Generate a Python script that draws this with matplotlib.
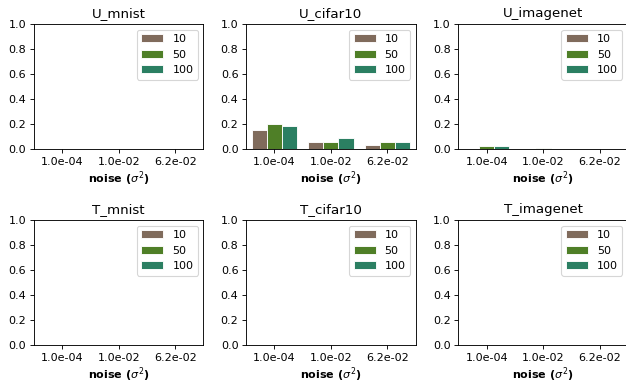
import numpy as np
import matplotlib.pyplot as plt

# noise levels and batch sizes
noise_labels = ["1.0e-04", "1.0e-02", "6.2e-02"]
sizes = ["10", "50", "100"]
colors = ["#806b5c", "#4f7f27", "#2b7f62"]

titles = ["U_mnist", "U_cifar10", "U_imagenet", "T_mnist", "T_cifar10", "T_imagenet"]

# rows = size (10, 50, 100), cols = noise level
u_mnist = [[0.0, 0.0, 0.0], [0.0, 0.0, 0.0], [0.0, 0.0, 0.0]]
u_cifar10 = [[0.15, 0.055, 0.03], [0.20, 0.055, 0.055], [0.185, 0.09, 0.055]]
u_imagenet = [[0.0, 0.0, 0.0], [0.02, 0.004, 0.0], [0.02, 0.0, 0.0]]
t_mnist = [[0.0, 0.0, 0.0], [0.0, 0.0, 0.0], [0.0, 0.0, 0.0]]
t_cifar10 = [[0.0, 0.002, 0.0], [0.002, 0.002, 0.002], [0.002, 0.003, 0.003]]
t_imagenet = [[0.0, 0.0, 0.0], [0.0, 0.0, 0.0], [0.0, 0.0, 0.0]]

all_data = [u_mnist, u_cifar10, u_imagenet, t_mnist, t_cifar10, t_imagenet]

fig, axes = plt.subplots(2, 3, figsize=(626 / 80, 384 / 80), dpi=80)
x = np.arange(len(noise_labels))
w = 0.8 / 3

for ax, title, data in zip(axes.flat, titles, all_data):
    for i, (s, c) in enumerate(zip(sizes, colors)):
        ax.bar(x + (i - 1) * w, data[i], width=w, color=c, edgecolor="white",
               linewidth=0.8, label=s)
    ax.set_ylim(0, 1.0)
    ax.set_xlim(-0.5, 2.5)
    ax.set_xticks(x)
    ax.set_xticklabels(noise_labels)
    ax.set_yticks(np.arange(0, 1.01, 0.2))
    ax.set_title(title)
    ax.set_xlabel(r"noise ($\sigma^2$)", fontweight="bold", labelpad=2)
    ax.legend(loc="upper right")

# the original image is cut at the right edge, so the last column runs off it
plt.subplots_adjust(left=0.0543, right=1.003, top=0.9375, bottom=0.1016,
                    wspace=0.253, hspace=0.568)
plt.savefig("out.png")
